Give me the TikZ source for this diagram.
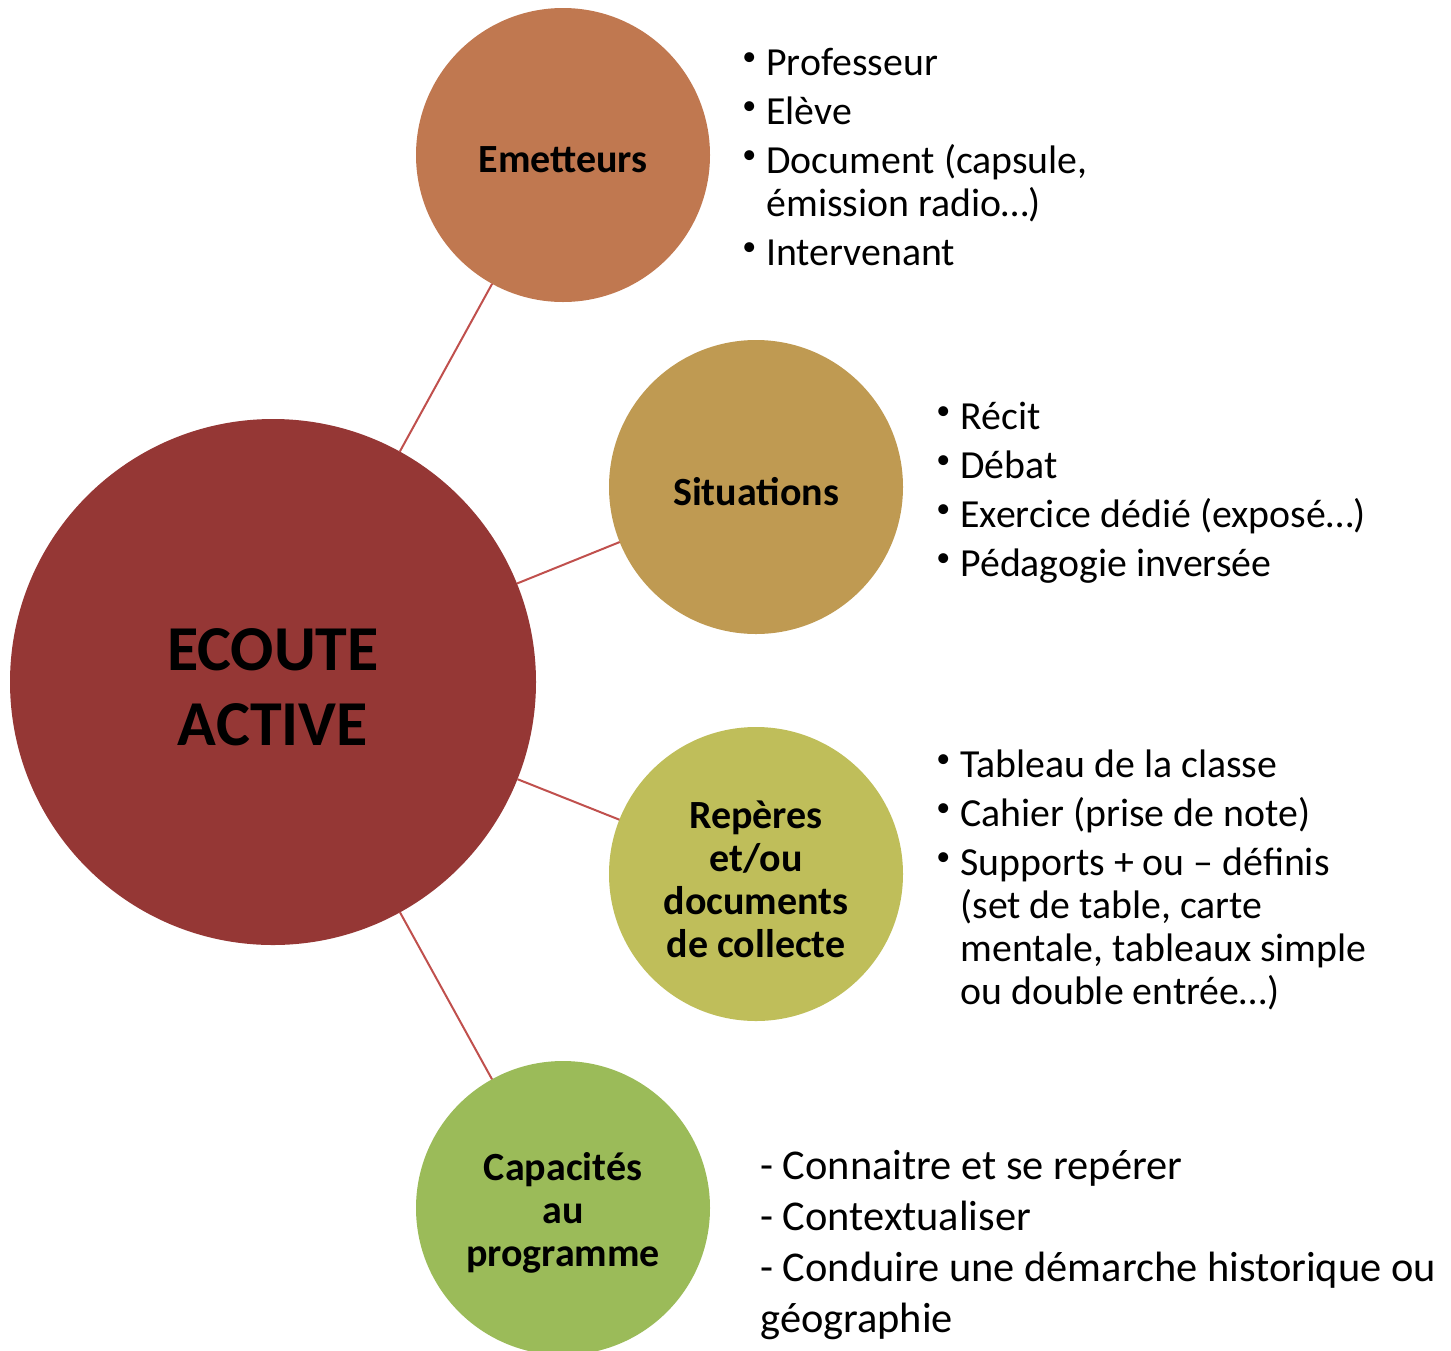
\documentclass[tikz,border=0pt]{standalone}
\usepackage{fontspec}
\setmainfont{Carlito}
\usepackage{tikz}

\definecolor{rougeEcoute}{HTML}{953735}
\definecolor{brunEmet}{HTML}{C07850}
\definecolor{ocreSitu}{HTML}{BF9A52}
\definecolor{oliveRep}{HTML}{BFBE5A}
\definecolor{vertCapa}{HTML}{9BBB59}
\definecolor{trait}{HTML}{C0504D}

\newcommand{\puce}{\makebox[12pt][l]{\raisebox{5pt}{\fontsize{14}{14}\selectfont\textbullet}}}

\begin{document}
\begin{tikzpicture}[x=0.5pt,y=-0.5pt,
  bulle/.style={circle,inner sep=0pt,outer sep=0pt,minimum size=147pt},
  titre/.style={align=center,yshift=-2.5pt,font=\bfseries\fontsize{20}{21.5}\selectfont},
  liste/.style={anchor=base west,inner sep=0pt,font=\fontsize{19.9}{21.5}\selectfont},
  lien/.style={draw=trait,line width=1pt}]
\useasboundingbox (0,0) rectangle (1451,1350);

\node[circle,inner sep=0pt,outer sep=0pt,minimum size=263pt,fill=rougeEcoute,
  label={[align=center,yshift=-2.5pt,font=\bfseries\fontsize{32}{37.5}\selectfont]center:ECOUTE\\ACTIVE}]
  (ecoute) at (273,682) {};
\node[bulle,fill=brunEmet,label={[titre]center:Emetteurs}] (emet) at (563,155) {};
\node[bulle,fill=ocreSitu,label={[titre]center:Situations}] (situ) at (756,487) {};
\node[bulle,fill=oliveRep,label={[titre]center:Repères\\et/ou\\documents\\de collecte}] (rep) at (756,874) {};
\node[bulle,fill=vertCapa,label={[titre]center:Capacités\\au\\programme}] (capa) at (563,1208) {};

\draw[lien] (ecoute) -- (emet);
\draw[lien] (ecoute) -- (situ);
\draw[lien] (ecoute) -- (rep);
\draw[lien] (ecoute) -- (capa);

\node[liste] (emetListe) at (742,75) {\begin{tabular}[t]{@{}l@{}l@{}}
\puce & Professeur\\[3pt]
\puce & Elève\\[3pt]
\puce & Document (capsule,\\
 & émission radio…)\\[3pt]
\puce & Intervenant
\end{tabular}};

\node[liste] (situListe) at (936,429) {\begin{tabular}[t]{@{}l@{}l@{}}
\puce & Récit\\[3pt]
\puce & Débat\\[3pt]
\puce & Exercice dédié (exposé…)\\[3pt]
\puce & Pédagogie inversée
\end{tabular}};

\node[liste] (repListe) at (936,777) {\begin{tabular}[t]{@{}l@{}l@{}}
\puce & Tableau de la classe\\[3pt]
\puce & Cahier (prise de note)\\[3pt]
\puce & Supports + ou – définis\\
 & (set de table, carte\\
 & mentale, tableaux simple\\
 & ou double entrée…)
\end{tabular}};

\node[liste,font=\fontsize{21.2}{25.5}\selectfont] (capaListe) at (760,1179) {\begin{tabular}[t]{@{}l@{}}
- Connaitre et se repérer\\
- Contextualiser\\
- Conduire une démarche historique ou\\
géographie
\end{tabular}};
\end{tikzpicture}
\end{document}
